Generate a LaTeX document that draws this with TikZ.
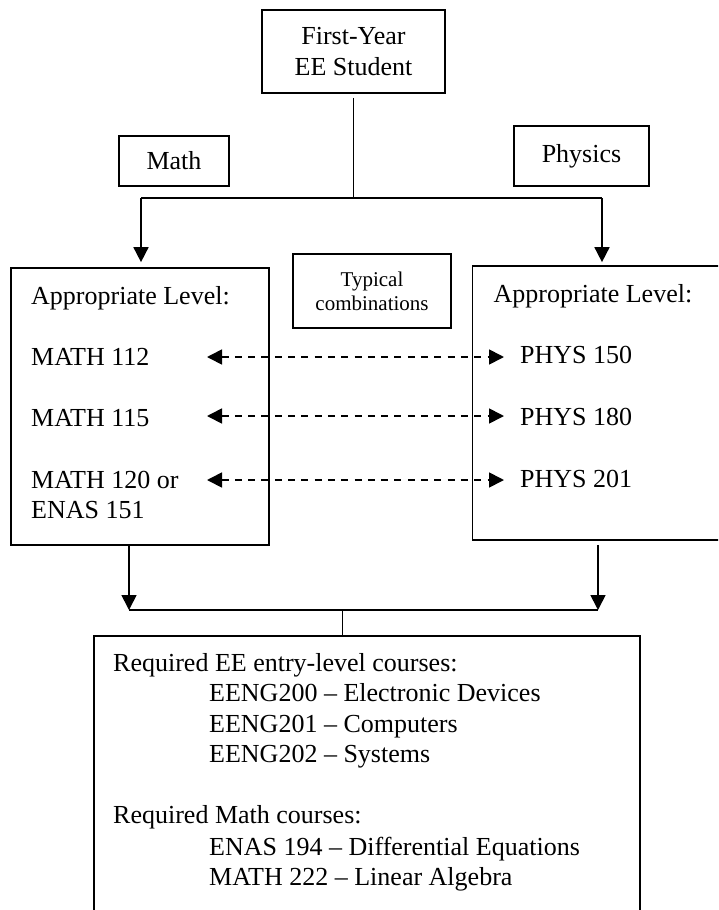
\documentclass[tikz,border=0pt]{standalone}
\usepackage{fontspec}
\setmainfont{Liberation Serif}
\usetikzlibrary{arrows.meta}
\newcommand{\bigtext}{\fontsize{26}{30.5}\selectfont}
\newcommand{\smalltext}{\fontsize{21}{24}\selectfont}
\tikzset{
	box/.style={draw, rectangle, inner sep=0pt, line width=1.7pt},
	wire/.style={line width=1.7pt},
	flow/.style={wire, -{Triangle[length=15pt,width=15pt]}},
	combo/.style={wire, dash pattern=on 7pt off 6.3pt, {Triangle[length=15pt,width=15pt]}-{Triangle[length=15pt,width=15pt]}},
	entry/.style={anchor=base west, inner sep=0pt}
}

\begin{document}
\begin{tikzpicture}[x=1pt, y=-1pt, font=\bigtext]
	\useasboundingbox (0,0) rectangle (718,910);
	\clip (0,0) rectangle (718,910);

	% boxes
	\node[box, minimum width=183pt, minimum height=83pt, align=center] (student) at (353.5,51.5) {First-Year\\EE Student};
	\node[box, minimum width=110pt, minimum height=50pt] (math) at (174,161) {Math};
	\node[box, minimum width=135pt, minimum height=60pt] (physics) at (581.5,156) {Physics};
	\node[box, minimum width=258.5pt, minimum height=277pt] (mathlvl) at (140,406.5) {};
	\node[box, minimum width=158pt, minimum height=74pt, align=center, font=\smalltext] (typical) at (372,291) {Typical\\combinations};
	\node[box, minimum width=288pt, minimum height=274pt] (physlvl) at (616.5,403) {};
	\node[box, minimum width=546pt, minimum height=330pt, anchor=north west] (required) at (93,635) {};

	% math levels
	\node[entry] (mathhead) at (31,304) {Appropriate Level:};
	\node[entry] (m112) at (31,365) {MATH 112};
	\node[entry] (m115) at (31,426) {MATH 115};
	\node[entry] (m120) at (31,488) {MATH 120 or};
	\node[entry] (e151) at (31,518) {ENAS 151};

	% physics levels
	\node[entry] (physhead) at (493.5,302) {Appropriate Level:};
	\node[entry] (p150) at (520,363) {PHYS 150};
	\node[entry] (p180) at (520,425) {PHYS 180};
	\node[entry] (p201) at (520,487) {PHYS 201};

	% required courses
	\node[entry] (reqee) at (113,671) {Required EE entry-level courses:};
	\node[entry] (eeng200) at (209,701) {EENG200 -- Electronic Devices};
	\node[entry] (eeng201) at (209,732) {EENG201 -- Computers};
	\node[entry] (eeng202) at (209,762) {EENG202 -- Systems};
	\node[entry] (reqmath) at (113,823) {Required Math courses:};
	\node[entry] (enas194) at (209,855) {ENAS 194 -- Differential Equations};
	\node[entry] (math222) at (209,885) {MATH 222 -- Linear Algebra};

	% split to the two levels
	\coordinate (split) at (353.5,198);
	\coordinate (splitL) at (141,198);
	\coordinate (splitR) at (602,198);
	\draw[wire, shorten <=4pt] (student) -- (split);
	\draw[wire] (splitL) -- (splitR);
	\draw[flow, shorten >=5pt] (splitL) -- (splitL |- mathlvl.north);
	\draw[flow, shorten >=3pt] (splitR) -- (splitR |- physlvl.north);

	% typical combinations
	\foreach \y [count=\i] in {357,416,480} {
		\coordinate (comboL\i) at (207,\y);
		\coordinate (comboR\i) at (504,\y);
		\draw[combo] (comboL\i) -- (comboR\i);
	}

	% merge into required courses
	\coordinate (mergeL) at (129,610);
	\coordinate (mergeR) at (598,610);
	\coordinate (merge) at (342.5,610);
	\draw[flow] (mathlvl.south -| mergeL) -- (mergeL);
	\draw[flow, shorten <=4pt] (physlvl.south -| mergeR) -- (mergeR);
	\draw[wire] (mergeL) -- (mergeR);
	\draw[wire] (merge) -- (merge |- required.north);
\end{tikzpicture}
\end{document}
